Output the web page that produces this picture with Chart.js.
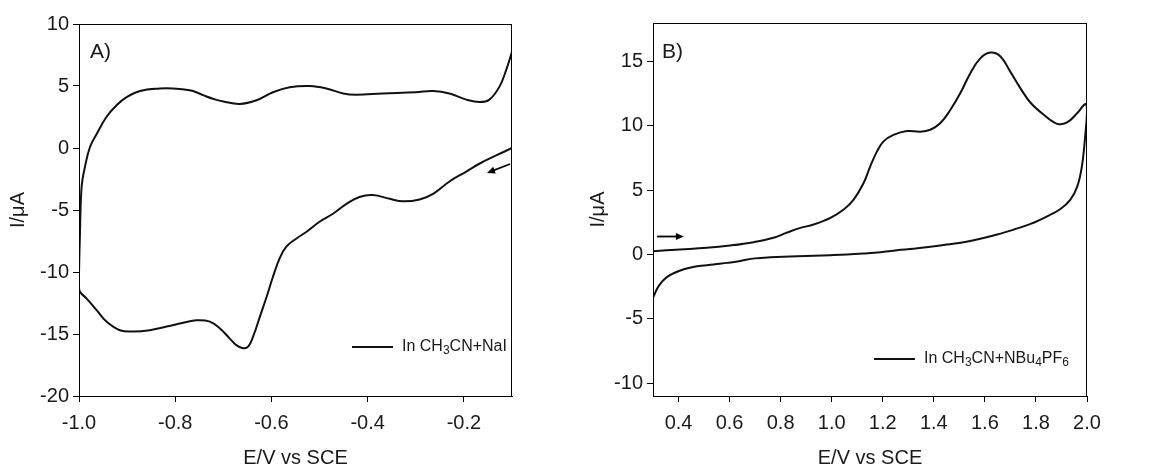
<!DOCTYPE html>
<html><head><meta charset="utf-8">
<script src="https://cdn.jsdelivr.net/npm/chart.js@4/dist/chart.umd.min.js"></script>
<style>
html,body{margin:0;padding:0;background:#fff;}
#wrap{position:relative;width:1161px;height:472px;overflow:hidden;}
canvas{position:absolute;top:0;}
</style></head><body>
<div id="wrap">
<canvas id="cA" width="580" height="472" style="left:0"></canvas>
<canvas id="cB" width="581" height="472" style="left:580px"></canvas>
</div>
<script>
// ---------- Panel A data (CH3CN + NaI) ----------
const potentialA = [-0.1,-0.133,-0.167,-0.195,-0.23,-0.264,-0.292,-0.327,-0.354,-0.389,-0.417,-0.444,-0.472,-0.50,-0.527,-0.548,-0.569,-0.583,-0.597,-0.61,-0.624,-0.638,-0.648,-0.659,-0.673,-0.687,-0.707,-0.728,-0.756,-0.783,-0.818,-0.853,-0.887,-0.915,-0.943,-0.963,-0.984,-0.998,-1.0,
  -1.0,-0.998,-0.9945,-0.9875,-0.977,-0.963,-0.943,-0.922,-0.901,-0.873,-0.832,-0.804,-0.77,-0.75,-0.735,-0.72,-0.70,-0.666,-0.631,-0.597,-0.562,-0.52,-0.486,-0.451,-0.424,-0.369,-0.30,-0.264,-0.23,-0.195,-0.167,-0.147,-0.126,-0.112,-0.1];
const currentA = [0,-0.6,-1.25,-1.9,-2.7,-3.7,-4.15,-4.3,-4.1,-3.8,-3.95,-4.5,-5.3,-5.95,-6.75,-7.3,-7.95,-8.9,-10.4,-12.0,-13.6,-15.2,-16.0,-16.15,-15.9,-15.35,-14.55,-14.0,-13.9,-14.1,-14.4,-14.7,-14.8,-14.7,-14.0,-13.1,-12.15,-11.6,-11.2,
  -10.1,-6.9,-3.1,-1.5,0.1,1.15,2.5,3.45,4.1,4.6,4.8,4.8,4.65,4.4,4.15,3.95,3.75,3.55,3.85,4.5,4.9,5.0,4.8,4.4,4.3,4.4,4.5,4.6,4.4,3.9,3.7,3.9,4.95,6.3,7.75];
const xTicksA = [-1.0,-0.8,-0.6,-0.4,-0.2];
const yTicksA = [-20,-15,-10,-5,0,5,10];
const legendA = [["In CH",0],["3",1],["CN+NaI",0]];
const arrowA = [[-0.104,-1.29],[-0.152,-2.02]];

// ---------- Panel B data (CH3CN + NBu4PF6) ----------
const potentialB = [0.3,0.407,0.511,0.602,0.694,0.772,0.824,0.877,0.929,0.995,1.047,1.086,1.125,1.151,1.177,1.203,1.242,1.295,1.347,1.386,1.425,1.465,1.504,1.543,1.582,1.622,1.661,1.70,1.74,1.779,1.831,1.883,1.922,1.962,1.994,2.0,
  1.994,1.98,1.962,1.935,1.896,1.844,1.779,1.713,1.648,1.582,1.517,1.451,1.386,1.321,1.256,1.19,1.125,1.06,0.995,0.864,0.76,0.70,0.66,0.63,0.589,0.537,0.472,0.407,0.354,0.322,0.3];
const currentB = [0.26,0.39,0.52,0.7,0.96,1.3,1.7,2.07,2.33,2.85,3.5,4.27,5.56,6.85,8.0,8.8,9.3,9.6,9.55,9.7,10.2,11.25,12.55,14.1,15.25,15.7,15.4,14.2,12.9,11.8,10.86,10.16,10.27,11.0,11.7,11.25,
  9.45,6.85,5.3,4.27,3.54,2.97,2.38,1.94,1.55,1.22,0.96,0.78,0.6,0.44,0.34,0.18,0.08,0,-0.05,-0.13,-0.22,-0.3,-0.42,-0.55,-0.65,-0.78,-0.92,-1.24,-1.76,-2.46,-3.36];
const xTicksB = [0.4,0.6,0.8,1.0,1.2,1.4,1.6,1.8,2.0];
const yTicksB = [-10,-5,0,5,10,15];
const legendB = [["In CH",0],["3",1],["CN+NBu",0],["4",1],["PF",0],["6",1]];
const arrowB = [[0.316,1.4],[0.421,1.4]];

const FONT = '"Liberation Sans", Arial, Helvetica, sans-serif';
const INK = '#1a1a1a';
Chart.defaults.font.family = FONT;
Chart.defaults.color = INK;

const decor = {
  id: 'decor',
  afterDraw(chart, args, o) {
    const {ctx, chartArea: a, scales: {x, y}} = chart;
    ctx.save();
    ctx.strokeStyle = '#000'; ctx.lineWidth = 1;
    ctx.strokeRect(Math.round(a.left) + 0.5, Math.round(a.top) + 0.5, Math.round(a.right - a.left) - 1, Math.round(a.bottom - a.top));
    ctx.fillStyle = INK;
    ctx.font = '21px ' + FONT;
    ctx.textBaseline = 'middle'; ctx.textAlign = 'left';
    ctx.fillText(o.label, a.left + o.labelDx, a.top + o.labelDy);
    const ly = a.bottom - o.legDy;
    const lx = a.right - o.legDx;
    ctx.strokeStyle = '#111'; ctx.lineWidth = 2;
    ctx.beginPath(); ctx.moveTo(lx, ly); ctx.lineTo(lx + 41, ly); ctx.stroke();
    let tx = lx + 50;
    for (const [t, sub] of o.legend) {
      ctx.font = (sub ? '12px ' : '16px ') + FONT;
      ctx.fillText(t, tx, sub ? ly + 4 : ly);
      tx += ctx.measureText(t).width;
    }
    const [p1, p2] = o.arrow;
    const x1 = x.getPixelForValue(p1[0]), y1 = y.getPixelForValue(p1[1]);
    const x2 = x.getPixelForValue(p2[0]), y2 = y.getPixelForValue(p2[1]);
    const ang = Math.atan2(y2 - y1, x2 - x1);
    const hl = 8, hw = 3.5;
    ctx.strokeStyle = '#000'; ctx.fillStyle = '#000'; ctx.lineWidth = 1.8;
    ctx.beginPath(); ctx.moveTo(x1, y1);
    ctx.lineTo(x2 - Math.cos(ang) * hl * 0.8, y2 - Math.sin(ang) * hl * 0.8); ctx.stroke();
    ctx.beginPath();
    ctx.moveTo(x2, y2);
    ctx.lineTo(x2 - Math.cos(ang) * hl + Math.sin(ang) * hw, y2 - Math.sin(ang) * hl - Math.cos(ang) * hw);
    ctx.lineTo(x2 - Math.cos(ang) * hl - Math.sin(ang) * hw, y2 - Math.sin(ang) * hl + Math.cos(ang) * hw);
    ctx.closePath(); ctx.fill();
    ctx.restore();
  }
};

function makeChart(id, px, py, xr, yr, xt, yt, pad, yw, deco) {
  const pts = px.map((v, i) => ({x: v, y: py[i]}));
  return new Chart(document.getElementById(id), {
    type: 'scatter',
    data: {datasets: [{data: pts, showLine: true, borderColor: '#111', borderWidth: 2,
      pointRadius: 0, tension: 0.4, fill: false}]},
    options: {
      responsive: false, animation: false,
      layout: {padding: pad},
      plugins: {legend: {display: false}, tooltip: {enabled: false}, decor: deco},
      scales: {
        x: {type: 'linear', min: xr[0], max: xr[1],
          afterBuildTicks: s => { s.ticks = xt.map(v => ({value: v})); },
          afterFit: s => { s.height = 76; },
          ticks: {callback: v => Number(v).toFixed(1), font: {size: 20}, color: INK, padding: 9, maxRotation: 0, autoSkip: false},
          grid: {display: true, drawOnChartArea: false, drawTicks: true, tickLength: 6, color: '#000'},
          border: {display: true, color: '#000'},
          title: {display: true, text: 'E/V vs SCE', font: {size: 20}, color: INK, padding: {top: 0, bottom: 2}}},
        y: {type: 'linear', min: yr[0], max: yr[1],
          afterBuildTicks: s => { s.ticks = yt.map(v => ({value: v})); },
          afterFit: s => { s.width = yw; },
          ticks: {callback: v => String(v), font: {size: 20}, color: INK, padding: 4, autoSkip: false},
          grid: {display: true, drawOnChartArea: false, drawTicks: true, tickLength: 6, color: '#000'},
          border: {display: true, color: '#000'},
          title: {display: true, text: 'I/\u03bcA', font: {size: 20}, color: INK, padding: {top: 6, bottom: 0}}}
      }
    },
    plugins: [decor]
  });
}

makeChart('cA', potentialA, currentA, [-1.0, -0.1], [-20, 10], xTicksA, yTicksA,
  {top: 24, right: 68, left: 0, bottom: 0}, 79,
  {label: 'A)', labelDx: 11, labelDy: 28, legend: legendA, legDx: 160, legDy: 49, arrow: arrowA});
makeChart('cB', potentialB, currentB, [0.3, 2.0], [-11, 18], xTicksB, yTicksB,
  {top: 23, right: 74, left: 0, bottom: 0}, 73,
  {label: 'B)', labelDx: 9, labelDy: 29, legend: legendB, legDx: 213, legDy: 37, arrow: arrowB});
</script>
</body></html>
